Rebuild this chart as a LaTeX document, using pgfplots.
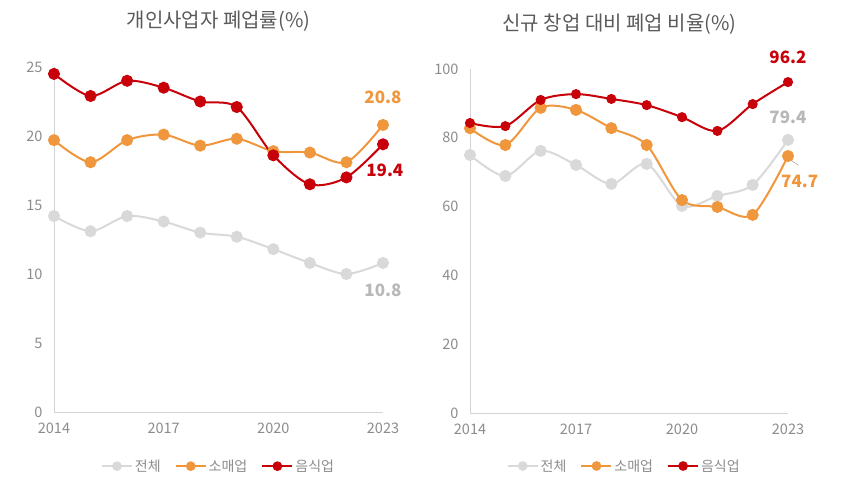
\documentclass[border=0pt]{standalone}
\usepackage{fontspec}
\setmainfont{Noto Sans CJK KR}
\usepackage{pgfplots}
\pgfplotsset{compat=1.18}

\definecolor{cAll}{HTML}{D9D9D9}
\definecolor{cRetail}{HTML}{F0963C}
\definecolor{cFood}{HTML}{C8000A}
\definecolor{cTick}{HTML}{8C8C8C}
\definecolor{cTitle}{HTML}{5A5A5A}
\definecolor{cAxis}{HTML}{D4D4D4}

\pgfplotsset{
  closure/.style={
    scale only axis,
    axis x line=bottom, axis y line=left,
    axis line style={draw=cAxis, line width=1pt, -},
    xmin=2014, xmax=2023, ymin=0,
    xtick={2014,2017,2020,2023},
    major tick length=0pt,
    /pgf/number format/assume math mode=true,
    x tick label style={/pgf/number format/1000 sep={}, yshift=-7pt},
    y tick label style={xshift=-8pt},
    tick label style={font=\fontsize{14.5}{14.5}\selectfont, text=cTick},
    title style={font=\fontsize{20}{20}\selectfont, text=cTitle, anchor=center},
    clip=false,
    legend columns=3,
    legend style={draw=none, fill=none, anchor=center,
      font=\fontsize{14}{14}\selectfont, text=cTick,
      /tikz/every even column/.append style={column sep=12pt}},
    legend image code/.code={%
      \draw[mark repeat=2, mark phase=2, mark size=3.8pt] plot coordinates {(0pt,0pt) (15pt,0pt) (30pt,0pt)};},
  },
  sAll/.style={smooth, color=cAll, line width=2pt, mark=*, mark options={fill=cAll, draw=none}},
  sRetail/.style={smooth, color=cRetail, line width=2pt, mark=*, mark options={fill=cRetail, draw=none}},
  sFood/.style={smooth, color=cFood, line width=2pt, mark=*, mark options={fill=cFood, draw=none}},
}

\begin{document}
\begin{tikzpicture}
\useasboundingbox (0,0) rectangle (842pt,485pt);

% Closure rate of sole proprietors
\begin{axis}[closure,
  at={(54pt,73pt)}, anchor=south west,
  width=329pt, height=345pt,
  ymax=25, ytick={0,5,10,15,20,25},
  title={개인사업자 폐업률(\%)},
  title style={at={(axis description cs:0.5,1.116)}},
  legend style={at={(axis description cs:0.5,-0.157)}},
  mark size=5pt]
\addplot[sAll] coordinates {(2014,14.2) (2015,13.1) (2016,14.2) (2017,13.8) (2018,13.0) (2019,12.7) (2020,11.8) (2021,10.8) (2022,10.0) (2023,10.8)};
\addlegendentry{전체}
\addplot[sRetail] coordinates {(2014,19.7) (2015,18.1) (2016,19.7) (2017,20.1) (2018,19.3) (2019,19.8) (2020,18.9) (2021,18.8) (2022,18.1) (2023,20.8)};
\addlegendentry{소매업}
\addplot[sFood] coordinates {(2014,24.5) (2015,22.9) (2016,24.0) (2017,23.5) (2018,22.5) (2019,22.1) (2020,18.6) (2021,16.5) (2022,17.0) (2023,19.4)};
\addlegendentry{음식업}
\node[font=\bfseries\fontsize{17}{17}\selectfont, text=cRetail] at (axis cs:2023,22.8) {20.8};
\node[font=\bfseries\fontsize{17}{17}\selectfont, text=cFood] at (axis cs:2023.05,17.5) {19.4};
\node[font=\bfseries\fontsize{17}{17}\selectfont, text=cAll!85!black] at (axis cs:2023,8.8) {10.8};
\end{axis}

% Closures relative to new start-ups
\begin{axis}[closure,
  at={(470pt,72pt)}, anchor=south west,
  width=318pt, height=344pt,
  ymax=100, ytick={0,20,40,60,80,100},
  title={신규 창업 대비 폐업 비율(\%)},
  title style={at={(axis description cs:0.47,1.113)}},
  legend style={at={(axis description cs:0.485,-0.154)}},
  mark size=5pt]
\addplot[sAll] coordinates {(2014,75.0) (2015,68.9) (2016,76.2) (2017,72.1) (2018,66.6) (2019,72.4) (2020,60.2) (2021,63.1) (2022,66.3) (2023,79.4)};
\addlegendentry{전체}
\addplot[sRetail] coordinates {(2014,82.8) (2015,77.9) (2016,88.7) (2017,88.1) (2018,82.8) (2019,77.9) (2020,61.9) (2021,59.9) (2022,57.6) (2023,74.7)};
\addlegendentry{소매업}
\addplot[sFood, mark size=4pt] coordinates {(2014,84.3) (2015,83.4) (2016,91.0) (2017,92.7) (2018,91.3) (2019,89.5) (2020,86.0) (2021,82.0) (2022,89.8) (2023,96.2)};
\addlegendentry{음식업}
\node[font=\bfseries\fontsize{17}{17}\selectfont, text=cFood] at (axis cs:2023,103.5) {96.2};
\node[font=\bfseries\fontsize{17}{17}\selectfont, text=cAll!85!black] at (axis cs:2023,86.0) {79.4};
\draw[cAll!80!black, line width=0.6pt] (axis cs:2023,74.0) -- (axis cs:2023.3,72.0);
\node[font=\bfseries\fontsize{17}{17}\selectfont, text=cRetail] at (axis cs:2023.33,67.2) {74.7};
\end{axis}
\end{tikzpicture}
\end{document}
